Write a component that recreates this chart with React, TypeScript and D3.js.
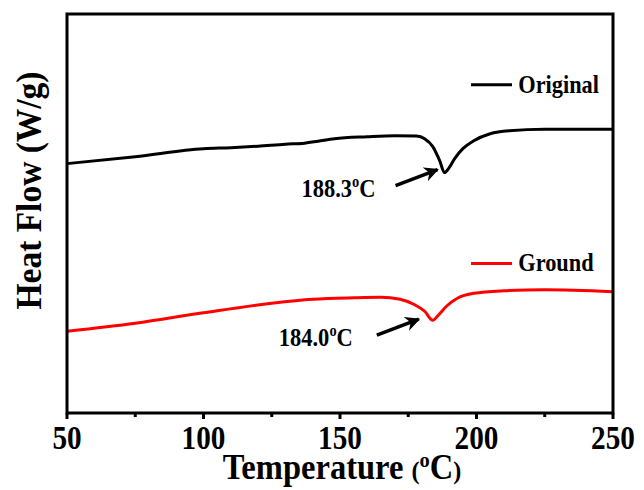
import { scaleLinear, line, curveMonotoneX } from "d3"

// Temperature (°C) sampling for each DSC trace
const originalTemp = [50, 75, 100, 110, 120, 130, 137, 142, 148, 160, 170, 178, 181, 184, 186.5, 188.3, 190, 192, 195, 199, 205, 212, 225, 250]
const originalFlow = [2.5, 2.57, 2.65, 2.66, 2.675, 2.695, 2.705, 2.725, 2.75, 2.77, 2.78, 2.777, 2.75, 2.67, 2.53, 2.41, 2.46, 2.55, 2.65, 2.73, 2.8, 2.83, 2.845, 2.845]

const groundTemp = [50, 75, 100, 125, 140, 155, 165, 172, 177, 181, 184, 186, 189, 193, 199, 210, 225, 250]
const groundFlow = [0.82, 0.9, 1.005, 1.1, 1.14, 1.155, 1.16, 1.14, 1.09, 1.02, 0.93, 0.98, 1.07, 1.15, 1.2, 1.225, 1.235, 1.215]

const xTicks = [50, 100, 150, 200, 250]
const xMinorTicks = [75, 125, 175, 225]
const seriesNames = ["Original", "Ground"]
const seriesColors = ["#000000", "#ff0000"]
const peakTemps = [188.3, 184.0]
const peakFlows = [2.41, 0.93]

const W = 644
const H = 490
const m = { left: 67, right: 31, top: 14, bottom: 77 }
const FONT = "'Liberation Serif', 'Times New Roman', serif"

export default function App() {
  const x = scaleLinear().domain([50, 250]).range([m.left, W - m.right])
  const y = scaleLinear().domain([0, 4]).range([H - m.bottom, m.top])

  const gen = line<[number, number]>()
    .x(d => x(d[0]))
    .y(d => y(d[1]))
    .curve(curveMonotoneX)

  const series = [
    originalTemp.map((t, i) => [t, originalFlow[i]] as [number, number]),
    groundTemp.map((t, i) => [t, groundFlow[i]] as [number, number]),
  ]

  const bottom = H - m.bottom
  const right = W - m.right

  // legend spots (value space)
  const legendFlow = [3.29, 1.5]
  // arrow tip offset from each peak, px
  const tipDx = [-7, -14]
  const tipDy = [-3, -1]
  const labelGap = [20, 24]

  return (
    <svg width={W} height={H} style={{ position: "absolute", left: 0, top: 0, background: "#fff" }}
      fontFamily={FONT} fontWeight="bold">
      <defs>
        <marker id="ah" viewBox="0 0 10 10" refX="9" refY="5" markerWidth="4.2" markerHeight="4.2" orient="auto">
          <path d="M0,0 L10,5 L0,10 L3,5 Z" fill="#000" />
        </marker>
      </defs>

      {series.map((s, i) => (
        <path key={i} d={gen(s) ?? ""} fill="none" stroke={seriesColors[i]} strokeWidth={3} />
      ))}

      {/* frame */}
      <rect x={m.left} y={m.top} width={right - m.left} height={bottom - m.top}
        fill="none" stroke="#000" strokeWidth={3} />

      {xTicks.map(t => (
        <g key={t}>
          <line x1={x(t)} x2={x(t)} y1={bottom} y2={bottom + 6} stroke="#000" strokeWidth={3} />
          <text transform={`translate(${x(t)},${bottom + 36}) scale(0.86,1)`} textAnchor="middle" fontSize={34}>{t}</text>
        </g>
      ))}
      {xMinorTicks.map(t => (
        <line key={t} x1={x(t)} x2={x(t)} y1={bottom} y2={bottom + 4} stroke="#000" strokeWidth={3} />
      ))}

      <text transform={`translate(${(m.left + right) / 2 + 2},${bottom + 66}) scale(0.93,1)`} textAnchor="middle" fontSize={35}>
        Temperature <tspan fontSize={26}>(</tspan><tspan fontSize={22} dy={-12}>o</tspan><tspan dy={12}>C</tspan><tspan fontSize={26}>)</tspan>
      </text>

      <text transform={`translate(41,${(m.top + bottom) / 2 - 23}) rotate(-90) scale(0.93,1)`} textAnchor="middle" fontSize={36}>
        Heat Flow (W/g)
      </text>

      {/* legend */}
      {seriesNames.map((n, i) => (
        <g key={n}>
          <line x1={x(198)} x2={x(213)} y1={y(legendFlow[i])} y2={y(legendFlow[i])} stroke={seriesColors[i]} strokeWidth={3} />
          <text transform={`translate(${x(215.3)},${y(legendFlow[i]) + 8}) scale(0.86,1)`} fontSize={26}>{n}</text>
        </g>
      ))}

      {/* peak annotations */}
      {peakTemps.map((p, i) => {
        const tipX = x(p) + tipDx[i]
        const tipY = y(peakFlows[i]) + tipDy[i]
        const tailX = tipX - 42
        const tailY = tipY + 16
        return (
          <g key={p}>
            <line x1={tailX} y1={tailY} x2={tipX} y2={tipY} stroke="#000" strokeWidth={3.5} markerEnd="url(#ah)" />
            <text transform={`translate(${tailX - labelGap[i]},${tailY + 11}) scale(0.9,1)`} textAnchor="end" fontSize={25}>
              {p.toFixed(1)}<tspan fontSize={16} dy={-10}>o</tspan><tspan dy={10}>C</tspan>
            </text>
          </g>
        )
      })}
    </svg>
  )
}
